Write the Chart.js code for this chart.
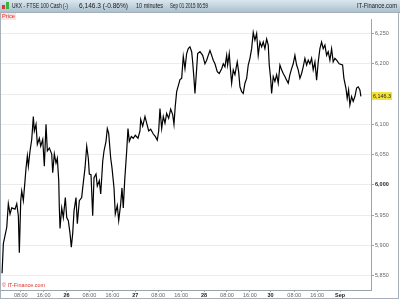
<!DOCTYPE html>
<html>
<head>
<meta charset="utf-8">
<script src="https://cdn.jsdelivr.net/npm/chart.js@4"></script>
<style>
  html, body { margin: 0; padding: 0; background: #fff; }
  #wrap { width: 400px; height: 300px; position: relative; }
</style>
</head>
<body>
<div id="wrap"><canvas id="priceChart" width="400" height="300"></canvas></div>
<script>
// hours since Aug 25 00:00, weekend removed
const hours = [
  1.47,1.92,3.11,3.66,4.26,4.85,6.00,6.60,7.16,7.50,
  7.99,8.34,8.90,9.49,9.84,10.30,10.65,11.24,11.83,12.39,
  12.74,13.33,13.79,14.48,14.97,15.67,16.23,16.82,17.28,17.98,
  18.81,19.16,19.72,20.31,20.77,21.26,21.47,21.71,22.30,22.86,
  23.56,24.05,24.61,25.20,25.65,26.14,26.60,27.29,27.75,28.45,
  29.28,29.63,30.44,31.03,31.59,31.94,32.53,33.12,33.58,34.28,
  34.73,35.43,35.92,36.62,37.07,37.77,38.22,38.71,39.41,39.86,
  40.56,41.01,41.71,42.20,42.90,43.35,43.80,44.29,44.99,45.44,
  45.90,46.60,47.29,47.99,48.94,49.63,49.88,50.58,51.38,51.97,
  52.67,53.37,54.28,54.97,55.67,56.16,56.61,57.21,57.77,58.36,
  58.95,59.65,60.35,61.05,61.50,61.95,62.44,63.14,63.59,64.19,
  64.75,65.34,65.93,66.49,67.08,67.68,68.03,68.48,68.83,69.42,
  69.77,70.58,71.52,72.32,72.91,73.47,74.07,74.66,75.22,75.81,
  76.62,77.31,78.15,78.71,79.30,79.90,80.24,80.80,81.29,81.64,
  82.20,82.79,83.59,84.08,84.54,85.13,85.69,86.28,86.88,87.43,
  88.03,88.62,89.18,89.77,90.37,90.92,91.52,92.11,92.67,93.26,
  93.86,94.42,94.77,95.25,95.60,96.16,96.75,97.35,97.91,98.50,
  99.09,99.65,100.24,100.84,101.40,101.99,102.58,103.14,103.73,104.33,
  104.89,105.48,106.07,106.63,107.22,107.82,108.38,108.97,109.56,110.12,
  110.72,111.31,111.87,112.46,113.05,113.61,114.21,114.80,115.36,115.95,
  116.54,117.10,117.70,118.29,119.20,120.38,120.84,121.54,121.99,122.48,
  122.93,123.52,124.08,124.68,125.27,125.83,126.42,126.77
];
const prices = [
  5854,5903,5930,5969,5952,5962,5960,5969,5949,5888,
  5974,5990,5974,6007,6028,6048,6031,6056,6075,6113,
  6089,6100,6067,6077,6064,6075,6031,6100,6056,6061,
  6051,6020,6051,6036,6044,6007,5962,5928,5962,5946,
  5979,5946,5941,5920,5897,5920,5957,5979,5936,5974,
  5979,5995,6028,6064,6044,6018,6017,5949,6012,6018,
  5998,6007,5985,6039,6056,6072,6093,6085,6044,6028,
  5995,5952,5966,5941,5969,5995,5962,6007,6056,6093,
  6072,6080,6077,6082,6077,6089,6108,6097,6113,6102,
  6089,6092,6084,6080,6074,6089,6126,6093,6113,6102,
  6118,6110,6125,6116,6100,6130,6154,6166,6174,6176,
  6212,6192,6217,6225,6228,6220,6203,6176,6151,6192,
  6217,6220,6214,6200,6206,6214,6222,6214,6206,6200,
  6187,6184,6192,6200,6195,6214,6198,6217,6187,6168,
  6190,6182,6203,6187,6162,6154,6151,6168,6176,6198,
  6209,6225,6252,6239,6250,6214,6236,6228,6236,6225,
  6241,6231,6198,6176,6151,6179,6171,6182,6168,6198,
  6190,6184,6179,6173,6168,6182,6192,6200,6214,6198,
  6190,6176,6184,6195,6209,6198,6206,6200,6209,6190,
  6203,6173,6203,6225,6236,6225,6231,6214,6220,6206,
  6225,6203,6209,6206,6200,6198,6176,6160,6143,6157,
  6132,6146,6138,6146,6160,6162,6157,6146.3
];

const xTickHours = [8, 16, 24, 32, 40, 48, 56, 64, 72, 80, 88, 95.2, 103.5, 111.5, 119.5];
const xTickLabels = ['08:00', '16:00', '26', '08:00', '16:00', '27', '08:00', '16:00', '28', '08:00', '16:00', '30', '08:00', '16:00', 'Sep'];
const yTickValues = [5850, 5900, 5950, 6000, 6050, 6100, 6150, 6200, 6250];

const FONT = "'Liberation Sans', Arial, sans-serif";
const lastPrice = prices[prices.length - 1];

function fmt(v, dec) {
    return v.toLocaleString('en-US', { minimumFractionDigits: dec, maximumFractionDigits: dec });
}

// header bar, captions, last price box, frame
const decorations = {
    id: 'decorations',
    beforeDraw(chart) {
        const c = chart.ctx;
        c.save();
        const g = c.createLinearGradient(0, 0, 0, 12);
        g.addColorStop(0, '#dbe7ee');
        g.addColorStop(1, '#a9c1ce');
        c.fillStyle = g;
        c.fillRect(0, 0, 400, 12);
        c.fillStyle = '#8aa3b0';
        c.fillRect(0, 12, 400, 1);
        // little icon
        c.fillStyle = '#d23b3b';
        c.fillRect(2, 5, 3, 4);
        c.fillStyle = '#3cb043';
        c.fillRect(6, 2, 3, 7);
        c.fillStyle = '#1a1a1a';
        c.font = '7px ' + FONT;
        c.textBaseline = 'middle';
        c.fillText('UKX - FTSE 100 Cash (-)', 12, 6.5, 56);
        c.fillText('6,146.3 (-0.86%)', 79, 6.5, 49);
        c.fillText('10 minutes', 136, 6.5, 27);
        c.fillText('Sep 01 2015 06:59', 170, 6.5, 38);
        c.fillText('IT-Finance.com', 357, 6.5, 40);
        // Price tag
        c.fillStyle = '#fbe3e3';
        c.fillRect(1, 13, 15, 7);
        c.fillStyle = '#e0302a';
        c.font = '6px ' + FONT;
        c.fillText('Price', 2, 16.5, 13);
        c.restore();
    },
    afterDraw(chart) {
        const c = chart.ctx;
        const y = Math.round(chart.scales.y.getPixelForValue(lastPrice));
        c.save();
        c.fillStyle = '#f2e23a';
        c.fillRect(372, y - 4, 20, 8);
        c.fillStyle = '#222';
        c.font = '5.5px ' + FONT;
        c.textBaseline = 'middle';
        c.fillText(fmt(lastPrice, 1), 373, y, 18);
        c.fillStyle = '#e0302a';
        c.font = '6px ' + FONT;
        c.fillText('\u00a9 IT-Finance.com', 2, 285, 43);
        c.strokeStyle = '#a7b0b8';
        c.lineWidth = 1;
        c.strokeRect(0.5, 12.5, 398, 286);
        c.restore();
    }
};

new Chart(document.getElementById('priceChart').getContext('2d'), {
    type: 'line',
    data: {
        datasets: [{
            label: 'UKX',
            data: hours.map((h, i) => ({ x: h, y: prices[i] })),
            borderColor: '#000',
            borderWidth: 1.2,
            pointRadius: 0,
            tension: 0
        }]
    },
    options: {
        responsive: false,
        animation: false,
        devicePixelRatio: 1,
        layout: { padding: { left: 1, top: 19, right: 0, bottom: 0 } },
        plugins: { legend: { display: false }, tooltip: { enabled: false } },
        scales: {
            x: {
                type: 'linear',
                min: 1.1,
                max: 130.3,
                afterFit: s => { s.height = 10; },
                afterBuildTicks: s => { s.ticks = xTickHours.map(v => ({ value: v })); },
                grid: { drawOnChartArea: false, tickLength: 2, color: '#9aa4ac' },
                border: { color: '#9aa4ac' },
                ticks: {
                    autoSkip: false,
                    maxRotation: 0,
                    padding: 0,
                    callback: (v, i) => xTickLabels[i],
                    color: ctx => /:/.test(xTickLabels[ctx.index]) ? '#666' : '#222',
                    font: ctx => ({ family: FONT, size: 5.5, weight: /:/.test(xTickLabels[ctx.index]) ? 'normal' : 'bold' })
                }
            },
            y: {
                position: 'right',
                min: 5826.4,
                max: 6274,
                afterFit: s => { s.width = 29; },
                afterBuildTicks: s => { s.ticks = yTickValues.map(v => ({ value: v })); },
                grid: { color: '#ececec', tickColor: '#9aa4ac', tickLength: 3 },
                border: { color: '#9aa4ac' },
                ticks: {
                    padding: 1,
                    callback: v => fmt(v, 0),
                    color: ctx => ctx.tick && ctx.tick.value === 6000 ? '#222' : '#666',
                    font: ctx => ({ family: FONT, size: 5.5, weight: ctx.tick && ctx.tick.value === 6000 ? 'bold' : 'normal' })
                }
            }
        }
    },
    plugins: [decorations]
});
</script>
</body>
</html>
